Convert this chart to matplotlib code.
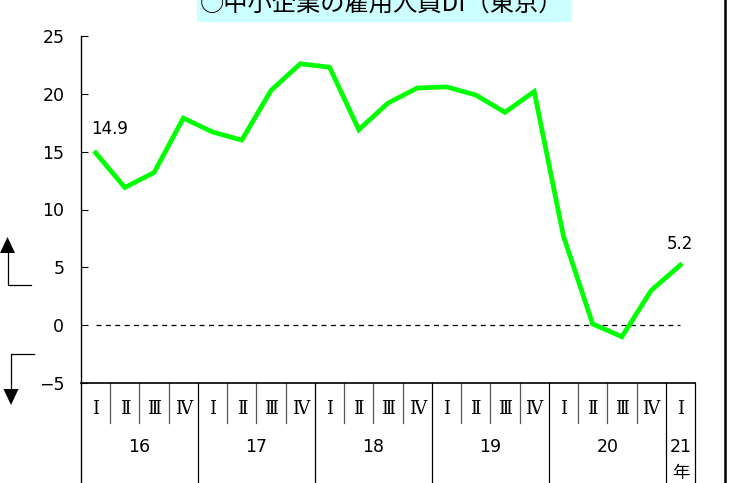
import matplotlib
matplotlib.use("Agg")
import matplotlib.pyplot as plt
from matplotlib.lines import Line2D
from matplotlib.patches import Polygon, Rectangle

plt.rcParams['font.family'] = ['Noto Sans CJK JP', 'DejaVu Sans']

# ---- data ----
quarters = ["Ⅰ", "Ⅱ", "Ⅲ", "Ⅳ"] * 5 + ["Ⅰ"]
years = ["16", "17", "18", "19", "20"]
last_year = ["21", "年"]
values = [14.9, 11.9, 13.2, 17.9, 16.7, 16.0, 20.3, 22.6, 22.3, 16.9,
          19.2, 20.5, 20.6, 19.9, 18.4, 20.2, 7.7, 0.1, -1.0, 3.0, 5.2]
yticks = [-5, 0, 5, 10, 15, 20, 25]
title = "○中小企業の雇用人員DI（東京）"

W, H = 731, 483
fig = plt.figure(figsize=(W / 100, H / 100), dpi=100)

def fx(px):
    return px / W

def fy(py):
    return 1 - py / H

ax_l, ax_r, ax_t, ax_b = 81, 695, 36, 383
ax = fig.add_axes([fx(ax_l), fy(ax_b), fx(ax_r - ax_l), (ax_b - ax_t) / H])
n = len(values)
x = list(range(n))
ax.set_xlim(-0.5, n - 0.5)
ax.set_ylim(-5, 25)
ax.plot(x, values, color="#00FF00", lw=3.4, solid_joinstyle="miter", zorder=3, clip_on=False)
ax.plot([x[0], x[-1]], [0, 0], color="black", lw=0.9, ls=(0, (4, 3.5)), zorder=2)

for s in ["top", "right"]:
    ax.spines[s].set_visible(False)
ax.spines["left"].set_linewidth(1.0)
ax.spines["bottom"].set_linewidth(1.2)
ax.set_yticks(yticks)
ax.set_yticklabels(["−5" if v == -5 else str(v) for v in yticks], fontsize=12.5,
                   family=["DejaVu Sans"])
ax.tick_params(axis="y", direction="in", length=5, width=0.8, pad=12)
ax.set_xticks([])

# value labels
ax.text(x[0] - 0.15, values[0] + 2.1, f"{values[0]}", fontsize=12, ha="left", va="center",
        family=["DejaVu Sans"])
ax.text(x[-1], values[-1] + 1.8, f"{values[-1]}", fontsize=12, ha="center", va="center",
        family=["DejaVu Sans"])

# category table below
tr = ax.get_xaxis_transform()
h_ax = ax_b - ax_t
def ay(py):
    return (ax_b - py) / h_ax

row1_bot = ay(423)
bottom = ay(490)
ax.plot([-0.5, -0.5], [0, bottom], transform=tr, color="black", lw=1.0, clip_on=False)
for k in range(1, n + 1):
    b = k - 0.5
    if k % 4 == 0 or k == n:
        ax.plot([b, b], [0, bottom], transform=tr, color="black", lw=0.9, clip_on=False)
    else:
        ax.plot([b, b], [0, row1_bot], transform=tr, color="#555555", lw=0.9, clip_on=False)
for i, q in enumerate(quarters):
    ax.text(i, ay(409), q, transform=tr, ha="center", va="center", fontsize=13,
            family=["DejaVu Serif", "Noto Sans CJK JP"])
for j, yr in enumerate(years):
    ax.text(4 * j + 1.5, ay(447), yr, transform=tr, ha="center", va="center", fontsize=12.5,
            family=["DejaVu Sans"])
ax.text(n - 1, ay(447), last_year[0], transform=tr, ha="center", va="center", fontsize=12.5,
        family=["DejaVu Sans"])
ax.text(n - 1, ay(473), last_year[1], transform=tr, ha="center", va="center", fontsize=12.5)

# title with cyan background box (clipped at top)
fig.patches.append(Rectangle((fx(197), fy(22)), fx(572 - 197), 22 / H, transform=fig.transFigure,
                             facecolor="#CCFFFF", edgecolor="none", zorder=0))
fig.text(fx(382), fy(5), title, ha="center", va="center", fontsize=17.5)

# right frame line
fig.lines.append(Line2D([fx(725), fx(725)], [0, 1], transform=fig.transFigure, color="black", lw=1.8))

# up / down arrows at left
def fl(xs, ys, lw=0.9):
    fig.lines.append(Line2D([fx(v) for v in xs], [fy(v) for v in ys], transform=fig.transFigure,
                            color="black", lw=lw))

fl([31, 8, 8], [285, 285, 252])
fig.patches.append(Polygon([(fx(0), fy(253)), (fx(15), fy(253)), (fx(7.5), fy(237))],
                           closed=True, transform=fig.transFigure, facecolor="black", edgecolor="none"))
fl([34, 11, 11], [354, 354, 390])
fig.patches.append(Polygon([(fx(3.5), fy(389)), (fx(18.5), fy(389)), (fx(11), fy(405))],
                           closed=True, transform=fig.transFigure, facecolor="black", edgecolor="none"))

fig.savefig("out.png", dpi=100)
